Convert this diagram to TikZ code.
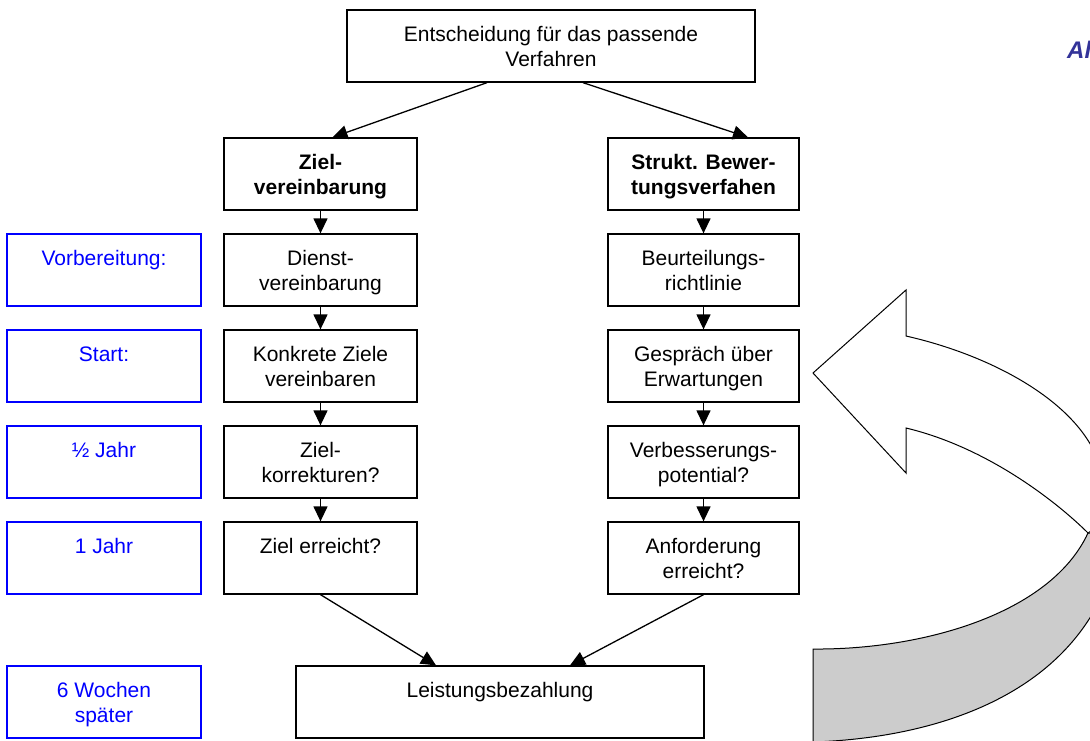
\documentclass[tikz,border=0pt]{standalone}
\usepackage{fontspec}
\setmainfont{Liberation Sans}
\usetikzlibrary{arrows.meta,calc}
\definecolor{labelblue}{RGB}{0,0,255}
\definecolor{titleblue}{RGB}{51,51,153}
\definecolor{bandgray}{RGB}{204,204,204}
\newcommand{\boxtext}[2]{\parbox[c][72pt][t]{#1}{\centering\rule{0pt}{31pt}#2}}
\tikzset{
  box/.style={draw=black, line width=1.3pt, inner sep=0pt, minimum height=72pt,
    font=\fontsize{21}{25}\selectfont},
  colbox/.style={box, minimum width=193pt},
  bluebox/.style={box, draw=labelblue, text=labelblue, minimum width=194pt},
  conn/.style={line width=1.3pt, -{Triangle[length=15pt,width=14pt]}},
  bigarrow/.style={draw=black, line width=1pt, line join=miter},
}
\begin{document}
\begin{tikzpicture}[x=1pt,y=-1pt]
\useasboundingbox (0,0) rectangle (1090,740);
\fill[white] (0,0) rectangle (1090,740);

% top decision box
\node[box, minimum width=408pt] (top) at (551,46)
  {\boxtext{408pt}{Entscheidung für das passende\\Verfahren}};

% left column
\node[colbox, font=\fontsize{21}{25}\selectfont\bfseries] (z1) at (320.5,174) {\boxtext{193pt}{Ziel-\\vereinbarung}};
\node[colbox] (z2) at (320.5,270) {\boxtext{193pt}{Dienst-\\vereinbarung}};
\node[colbox] (z3) at (320.5,366) {\boxtext{193pt}{Konkrete Ziele\\vereinbaren}};
\node[colbox] (z4) at (320.5,462) {\boxtext{193pt}{Ziel-\\korrekturen?}};
\node[colbox] (z5) at (320.5,558) {\boxtext{193pt}{Ziel erreicht?}};

% right column
\node[colbox, minimum width=191pt, font=\fontsize{21}{25}\selectfont\bfseries] (s1) at (703.5,174) {\boxtext{191pt}{Strukt. Bewer-\\tungsverfahen}};
\node[colbox, minimum width=191pt] (s2) at (703.5,270) {\boxtext{191pt}{Beurteilungs-\\richtlinie}};
\node[colbox, minimum width=191pt] (s3) at (703.5,366) {\boxtext{191pt}{Gespräch über\\Erwartungen}};
\node[colbox, minimum width=191pt] (s4) at (703.5,462) {\boxtext{191pt}{Verbesserungs-\\potential?}};
\node[colbox, minimum width=191pt] (s5) at (703.5,558) {\boxtext{191pt}{Anforderung\\erreicht?}};

% blue time labels
\node[bluebox] (b2) at (104,270) {\boxtext{194pt}{Vorbereitung:}};
\node[bluebox] (b3) at (104,366) {\boxtext{194pt}{Start:}};
\node[bluebox] (b4) at (104,462) {\boxtext{194pt}{½ Jahr}};
\node[bluebox] (b5) at (104,558) {\boxtext{194pt}{1 Jahr}};
\node[bluebox] (b6) at (104,702) {\boxtext{194pt}{6 Wochen\\später}};

% result box
\node[box, minimum width=408pt] (pay) at (500,702) {\boxtext{408pt}{Leistungsbezahlung}};

% connectors
\draw[conn] ($(top.south)+(-64,0)$) -- ($(z1.north)+(12,0)$);
\draw[conn] ($(top.south)+(32,0)$) -- ($(s1.north)+(44.5,0)$);
\foreach \a/\b in {z1/z2,z2/z3,z3/z4,z4/z5,s1/s2,s2/s3,s3/s4,s4/s5}
  \draw[conn] (\a.south) -- (\b.north);
\draw[conn] (z5.south) -- ($(pay.north)+(-64,0)$);
\draw[conn] (s5.south) -- ($(pay.north)+(70,0)$);

% big curved return arrow and cut-off title (clipped at the page edge)
\begin{scope}
\clip (0,0) rectangle (1090,740);
\coordinate (n1) at (906,336);
\coordinate (n2) at (906,428);
\coordinate (tip) at (813,373);
\coordinate (bar1) at (906,290);
\coordinate (bar2) at (906,473);
\coordinate (pp) at (1088,533);
\coordinate (qq) at (813,649);
\path[bigarrow, fill=bandgray]
  (pp) .. controls (1050,615) and (920,650) .. (qq)
  -- (813,742) .. controls (930,738) and (1050,700) .. (1100,600)
  -- (1100,533) -- cycle;
\path[bigarrow, fill=white]
  (n1) .. controls (990,355) and (1075,400) .. (1098,460)
  -- (1100,525) -- (pp)
  .. controls (1060,505) and (990,448) .. (n2)
  -- (bar2) -- (tip) -- (bar1) -- cycle;
\node[anchor=base west, inner sep=0pt, text=titleblue,
  font=\fontsize{24}{28}\selectfont\bfseries\itshape] (ttl) at (1067,58) {Al};
\end{scope}
\end{tikzpicture}
\end{document}
